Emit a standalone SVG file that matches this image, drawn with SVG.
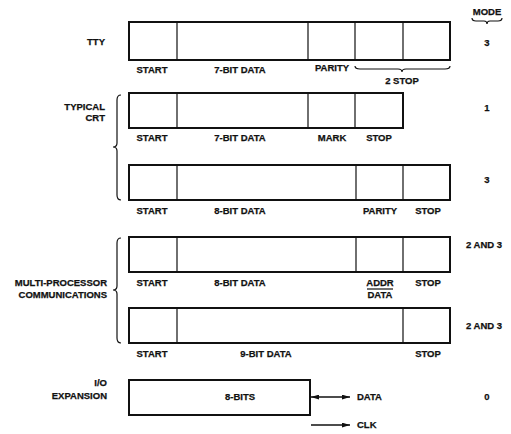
<svg xmlns="http://www.w3.org/2000/svg" width="511" height="434" viewBox="0 0 511 434">
<defs>
<marker id="ah" viewBox="0 0 10 6" refX="10" refY="3" markerWidth="8" markerHeight="5" orient="auto-start-reverse" markerUnits="userSpaceOnUse">
<path d="M0 0 L10 3 L0 6 Z" fill="#111"/>
</marker>
<style>
text{font-family:"Liberation Sans",Arial,sans-serif;font-weight:bold;font-size:9.5px;fill:#111;stroke:#111;stroke-width:0.25}
.m{text-anchor:middle}
.r{text-anchor:end}
.box{fill:#fff;stroke:#111;stroke-width:2}
.div{stroke:#111;stroke-width:1.2;fill:none}
.br{stroke:#111;stroke-width:1.2;fill:none}
.ar{stroke:#111;stroke-width:1.3;fill:none}
</style>
</defs>
<rect width="511" height="434" fill="#fff"/>

<g id="mode">
<text class="m" x="487" y="15">MODE</text>
<path class="br" d="M472 18 Q472 21 476 21 L484 21 Q487 21 487 24 Q487 21 490 21 L498 21 Q502 21 502 18"/>
<text class="m" x="487" y="46">3</text>
<text class="m" x="487" y="111">1</text>
<text class="m" x="487" y="183">3</text>
<text class="m" x="484" y="248">2 AND 3</text>
<text class="m" x="484" y="329">2 AND 3</text>
<text class="m" x="487" y="400">0</text>
</g>

<g id="tty">
<text class="r" x="105" y="45">TTY</text>
<rect class="box" x="129" y="22" width="321" height="38"/>
<path class="div" d="M177 22V60M308 22V60M355 22V60M403 22V60"/>
<text class="m" x="152" y="73">START</text>
<text class="m" x="240" y="73">7-BIT DATA</text>
<text class="m" x="332" y="71">PARITY</text>
<path class="br" d="M355 66 Q355 69 360 69 L398 69 Q402 69 402 72 Q402 69 406 69 L445 69 Q450 69 450 66"/>
<text class="m" x="402" y="84">2 STOP</text>
</g>

<g id="crt-label">
<text class="r" x="105" y="110">TYPICAL</text>
<text class="r" x="105" y="121">CRT</text>
<path class="br" d="M121 95 Q117 95 117 100 L117 143 Q117 147 113 147 Q117 147 117 151 L117 195 Q117 200 121 200"/>
</g>

<g id="crt1">
<rect class="box" x="129" y="93" width="274" height="35"/>
<path class="div" d="M177 93V128M308 93V128M355 93V128"/>
<text class="m" x="152" y="141">START</text>
<text class="m" x="240" y="141">7-BIT DATA</text>
<text class="m" x="332" y="141">MARK</text>
<text class="m" x="379" y="141">STOP</text>
</g>

<g id="crt2">
<rect class="box" x="129" y="165" width="321" height="35"/>
<path class="div" d="M177 165V200M356 165V200M403 165V200"/>
<text class="m" x="152" y="214">START</text>
<text class="m" x="240" y="214">8-BIT DATA</text>
<text class="m" x="380" y="214">PARITY</text>
<text class="m" x="428" y="214">STOP</text>
</g>

<g id="mp-label">
<text class="r" x="107" y="286">MULTI-PROCESSOR</text>
<text class="r" x="107" y="298">COMMUNICATIONS</text>
<path class="br" d="M121 238 Q117 238 117 243 L117 286 Q117 290 113 290 Q117 290 117 294 L117 338 Q117 343 121 343"/>
</g>

<g id="mp1">
<rect class="box" x="129" y="237" width="321" height="35"/>
<path class="div" d="M177 237V272M356 237V272M403 237V272"/>
<text class="m" x="152" y="286">START</text>
<text class="m" x="240" y="286">8-BIT DATA</text>
<text class="m" x="380" y="286">ADDR</text>
<path class="div" d="M367 289H393"/>
<text class="m" x="380" y="298">DATA</text>
<text class="m" x="428" y="286">STOP</text>
</g>

<g id="mp2">
<rect class="box" x="129" y="308" width="321" height="35"/>
<path class="div" d="M177 308V343M403 308V343"/>
<text class="m" x="152" y="357">START</text>
<text class="m" x="266" y="357">9-BIT DATA</text>
<text class="m" x="428" y="357">STOP</text>
</g>

<g id="io">
<text class="r" x="107" y="386">I/O</text>
<text class="r" x="107" y="399">EXPANSION</text>
<rect class="box" x="129" y="380" width="181" height="35"/>
<text class="m" x="240" y="400">8-BITS</text>
<text x="357" y="400">DATA</text>
<text x="357" y="428">CLK</text>
</g>

<g id="connectors">
<line class="ar" x1="311" y1="397" x2="350" y2="397" marker-start="url(#ah)" marker-end="url(#ah)"/>
<line class="ar" x1="311" y1="425" x2="350" y2="425" marker-end="url(#ah)"/>
</g>
</svg>
